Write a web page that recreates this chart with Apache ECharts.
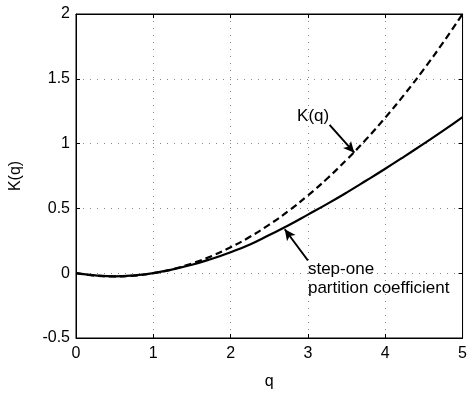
<!DOCTYPE html>
<html>
<head>
<meta charset="utf-8">
<script src="https://cdn.jsdelivr.net/npm/echarts@6/dist/echarts.min.js"></script>
<style>html,body{margin:0;padding:0;background:#fff;}#c{width:470px;height:395px;}</style>
</head>
<body>
<div id="c"></div>
<script>
var qValues = [0,0.25,0.5,0.75,1,1.25,1.5,1.75,2,2.25,2.5,2.75,3,3.25,3.5,3.75,4,4.25,4.5,4.75,5];
var kq = [0,-0.019,-0.025,-0.019,0,0.031,0.075,0.131,0.2,0.281,0.375,0.481,0.6,0.731,0.875,1.031,1.2,1.381,1.575,1.781,2.0];
var stepOne = [0,-0.017,-0.024,-0.017,0,0.03,0.065,0.11,0.162,0.222,0.295,0.37,0.452,0.535,0.622,0.713,0.806,0.902,1.0,1.1,1.205];
var xTicks = [0,1,2,3,4,5];
var yTicks = [-0.5,0,0.5,1,1.5,2];
var annoKq = {text:'K(q)', at:[2.86,1.21], from:[3.28,1.144], to:[3.60,0.93]};
var annoStep = {text:'step-one\npartition coefficient', at:[3.0,-0.045], from:[3.0,0.098], to:[2.70,0.339]};

function pairs(xs, ys){ return xs.map(function(x,i){return [x, ys[i]];}); }
var font = 'Liberation Sans, Arial, Helvetica, sans-serif';
var chart = echarts.init(document.getElementById('c'), null, {renderer:'canvas'});
var axisLine = {show:true, onZero:false, lineStyle:{color:'#000', width:1}};
var axisTick = {show:true, inside:true, length:4, lineStyle:{color:'#000'}};
var option = {
  animation:false,
  grid:{left:76, right:3, top:14, bottom:51, show:true, borderColor:'#000', borderWidth:1},
  xAxis:[{
    type:'value', min:0, max:5, interval:1, name:'q', nameLocation:'middle', nameGap:36,
    nameTextStyle:{fontFamily:font, fontSize:16, color:'#000'},
    axisLine:axisLine, axisTick:axisTick,
    axisLabel:{fontFamily:font, fontSize:16, color:'#000', margin:8},
    splitLine:{show:true, lineStyle:{color:'#888', type:[1,6], width:1}}
  },{
    type:'value', min:0, max:5, interval:1, position:'top',
    axisLine:axisLine, axisTick:axisTick, axisLabel:{show:false}, splitLine:{show:false}
  }],
  yAxis:[{
    type:'value', min:-0.5, max:2, interval:0.5, name:'K(q)', nameLocation:'middle', nameGap:52,
    nameTextStyle:{fontFamily:font, fontSize:16, color:'#000'},
    axisLine:axisLine, axisTick:axisTick,
    axisLabel:{fontFamily:font, fontSize:16, color:'#000', margin:6},
    splitLine:{show:true, lineStyle:{color:'#888', type:[1,6], width:1}}
  },{
    type:'value', min:-0.5, max:2, interval:0.5, position:'right',
    axisLine:axisLine, axisTick:axisTick, axisLabel:{show:false}, splitLine:{show:false}
  }],
  series:[
    {type:'line', name:'K(q)', data:pairs(qValues,kq), smooth:true, showSymbol:false, symbol:'none',
     lineStyle:{color:'#000', width:2.2, type:[7,4]}, z:3,
     markLine:{silent:true, symbol:['none','arrow'], symbolSize:[8,11],
       lineStyle:{color:'#000', width:2, type:'solid'}, label:{show:false},
       data:[[{coord:annoKq.from},{coord:annoKq.to}]]}},
    {type:'line', name:'step-one', data:pairs(qValues,stepOne), smooth:true, showSymbol:false, symbol:'none',
     lineStyle:{color:'#000', width:2.2, type:'solid'}, z:3,
     markLine:{silent:true, symbol:['none','arrow'], symbolSize:[8,11],
       lineStyle:{color:'#000', width:2, type:'solid'}, label:{show:false},
       data:[[{coord:annoStep.from},{coord:annoStep.to}]]}}
  ]
};
chart.setOption(option);
function place(a){
  var p = chart.convertToPixel({gridIndex:0}, a.at);
  return {type:'text', x:p[0], y:p[1], z:10,
    style:{text:a.text, font:'17px '+font, fill:'#000', textAlign:'left', textVerticalAlign:'middle', lineHeight:19}};
}
chart.setOption({graphic:[place(annoKq), place(annoStep)]});
</script>
</body>
</html>
